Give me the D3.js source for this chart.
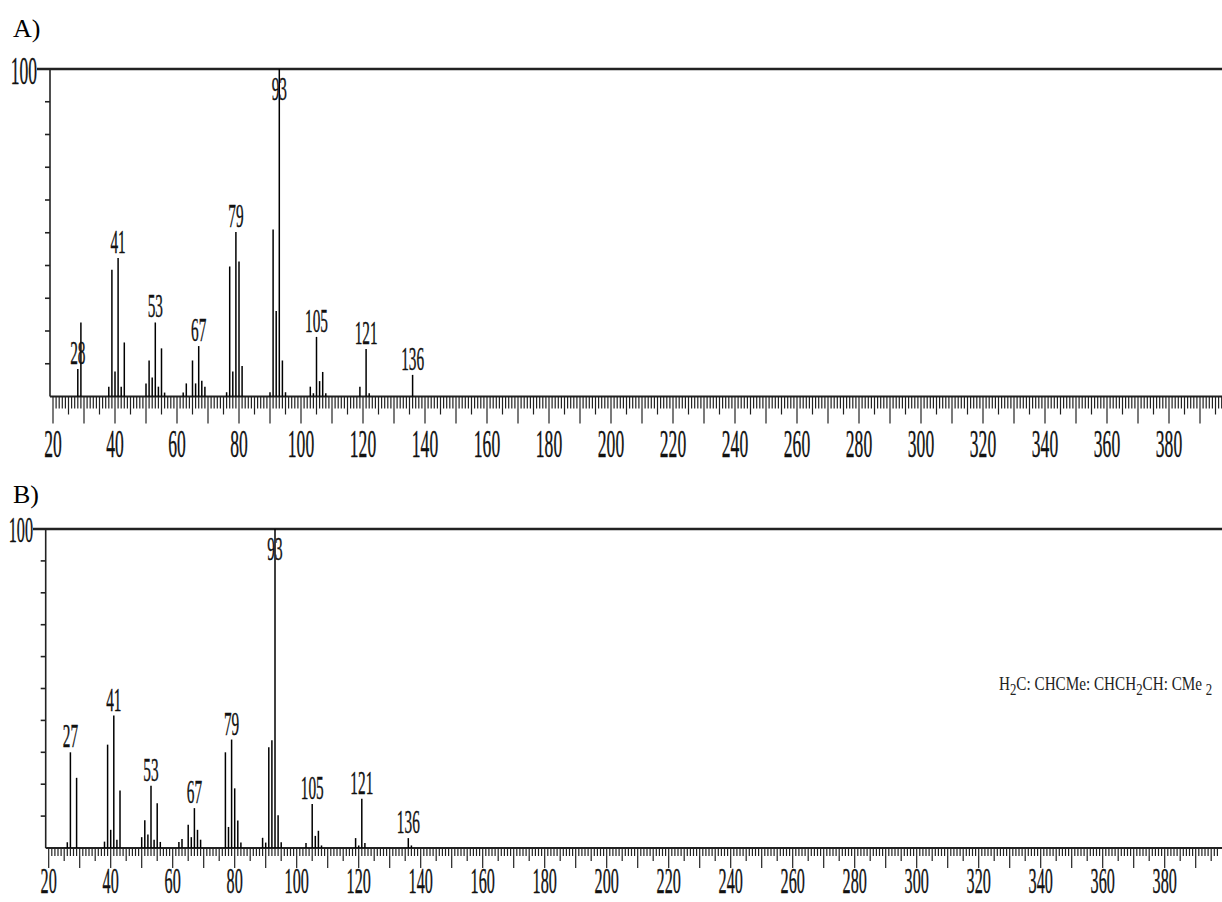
<!DOCTYPE html>
<html>
<head>
<meta charset="utf-8">
<script src="https://cdn.jsdelivr.net/npm/d3@7"></script>
<style>
  html, body { margin: 0; padding: 0; background: #fff; }
  svg { display: block; }
</style>
</head>
<body>
<svg id="chart"></svg>
<script>
// spectrum A
const mzA = [28, 29, 38, 39, 40, 41, 42, 43, 50, 51, 52, 53, 54, 55, 56, 62, 63, 65, 66, 67, 68, 69,
  76, 77, 78, 79, 80, 81, 90, 91, 92, 93, 94, 95, 103, 104, 105, 106, 107, 108, 119, 121, 122, 136]
const intA = [8.4, 22.6, 3, 38.7, 7.6, 42.3, 3, 16.5, 4, 11, 5.8, 22.6, 3, 14.7, 1.2, 1.2, 4, 11, 4, 15.4, 4.8, 3,
  1.3, 39.7, 7.6, 50.2, 41.2, 9.3, 1.3, 51, 26.1, 100, 11, 1.3, 3, 1, 18.2, 4.7, 7.5, 1, 3, 14.5, 1, 6.6]
const labelsA = [28, 41, 53, 67, 79, 93, 105, 121, 136]

// spectrum B
const mzB = [26, 27, 29, 38, 39, 40, 41, 42, 43, 50, 51, 52, 53, 54, 55, 56, 62, 63, 65, 66, 67, 68, 69,
  77, 78, 79, 80, 81, 82, 89, 90, 91, 92, 93, 94, 95, 103, 105, 106, 107, 108, 119, 120, 121, 122, 136, 137]
const intB = [1.8, 30, 22, 2, 32.4, 5.7, 41.5, 2.6, 18, 3.4, 8.7, 4.2, 19.5, 2.6, 14, 1.9, 1.9, 2.8, 7.3, 3.4, 12.5, 5.7, 2.6,
  30, 6.6, 34, 18.7, 8.6, 1.7, 3.2, 1.7, 31.6, 33.8, 100, 10.3, 1.8, 1.6, 13.8, 3.8, 5.4, 0.8, 3.1, 0.8, 15.4, 1.6, 3.1, 0.8]
const labelsB = [27, 41, 53, 67, 79, 93, 105, 121, 136]

// axis tick labels
const xTickLabels = [20, 40, 60, 80, 100, 120, 140, 160, 180, 200, 220, 240, 260, 280, 300, 320, 340, 360, 380]
const yTopLabel = '100'
// formula pieces: [text, isSubscript]
const formulaParts = [['H', 0], ['2', 1], ['C: CHCMe: CHCH', 0], ['2', 1], ['CH: CMe ', 0], ['2', 1]]

const W = 1222, H = 902
const ink = '#111'
const narrow = 'Liberation Serif, Times New Roman, serif'

const svg = d3.select('#chart').attr('width', W).attr('height', H)

// condensed serif text, squeezed horizontally
function squeezed(g, x, y, str, size, anchor) {
  g.append('text')
    .attr('transform', `translate(${x},${y}) scale(0.45,1)`)
    .attr('text-anchor', anchor || 'middle')
    .attr('font-family', narrow)
    .attr('font-size', size)
    .attr('fill', ink)
    .attr('stroke', ink)
    .attr('stroke-width', 0.4)
    .text(str)
}

function drawPanel(p) {
  const g = svg.append('g')

  const x = d3.scaleLinear().domain([20, 380]).range([p.x20, p.x20 + 360 * 3.1])
  const y = d3.scaleLinear().domain([0, 100]).range([p.base, p.top])

  // panel letter
  g.append('text')
    .attr('x', 13).attr('y', p.letterY)
    .attr('font-family', narrow)
    .attr('font-size', 26)
    .attr('fill', '#000')
    .text(p.letter)

  // top 100% line and left axis
  g.append('line')
    .attr('x1', p.topLineX).attr('x2', W)
    .attr('y1', y(100)).attr('y2', y(100))
    .attr('stroke', '#222').attr('stroke-width', 2.5)
  g.append('line')
    .attr('x1', p.axisX).attr('x2', p.axisX)
    .attr('y1', y(100)).attr('y2', y(0))
    .attr('stroke', '#222').attr('stroke-width', 1.6)
  g.selectAll('.ytick')
    .data(d3.range(10, 100, 10))
    .join('line')
    .attr('x1', p.axisX - 5).attr('x2', p.axisX)
    .attr('y1', d => y(d)).attr('y2', d => y(d))
    .attr('stroke', '#222').attr('stroke-width', 1.6)
  squeezed(g, p.topLineX, y(100) + p.lab100dy, yTopLabel, p.tickSize, 'end')

  // baseline with per-unit ticks
  g.append('line')
    .attr('x1', p.axisX).attr('x2', W)
    .attr('y1', y(0)).attr('y2', y(0))
    .attr('stroke', '#222').attr('stroke-width', 2)
  g.selectAll('.xtick')
    .data(d3.range(20, 398))
    .join('line')
    .attr('x1', d => x(d)).attr('x2', d => x(d))
    .attr('y1', y(0))
    .attr('y2', d => y(0) + (d % 10 === 0 ? p.tickLen[2] : d % 5 === 0 ? p.tickLen[1] : p.tickLen[0]))
    .attr('stroke', '#222').attr('stroke-width', 1.2)
  xTickLabels.forEach(v => squeezed(g, x(v), p.tickLabelY, v, p.tickSize))

  // peaks
  const peaks = p.mz.map((m, i) => ({ mz: m, v: p.int[i] }))
  g.selectAll('.peak')
    .data(peaks)
    .join('line')
    .attr('x1', d => x(d.mz)).attr('x2', d => x(d.mz))
    .attr('y1', y(0)).attr('y2', d => y(d.v))
    .attr('stroke', '#000').attr('stroke-width', 1.5)

  p.labels.forEach(m => {
    const v = peaks.find(d => d.mz === m).v
    const ly = Math.max(y(v) - 5, y(100) + 31)
    squeezed(g, x(m), ly, m, 34)
  })
}

drawPanel({
  letter: 'A)', letterY: 37,
  axisX: 50, x20: 53, top: 69, base: 396.5,
  topLineX: 37, lab100dy: 15,
  tickLen: [12, 18, 27], tickLabelY: 457, tickSize: 39,
  mz: mzA, int: intA, labels: labelsA
})

drawPanel({
  letter: 'B)', letterY: 503,
  axisX: 45.7, x20: 48.7, top: 529, base: 848,
  topLineX: 33, lab100dy: 13,
  tickLen: [8, 13, 20], tickLabelY: 893, tickSize: 36,
  mz: mzB, int: intB, labels: labelsB
})

// compound formula in panel B
const formula = svg.append('text')
  .attr('transform', 'translate(999,690) scale(0.8,1)')
  .attr('font-family', narrow)
  .attr('font-size', 19)
  .attr('fill', '#222')
let wasSub = false
formulaParts.forEach(([t, sub]) => {
  const s = formula.append('tspan').text(t)
  if (sub) s.attr('font-size', 16).attr('dy', 5)
  else if (wasSub) s.attr('dy', -5)
  wasSub = !!sub
})
</script>
</body>
</html>
